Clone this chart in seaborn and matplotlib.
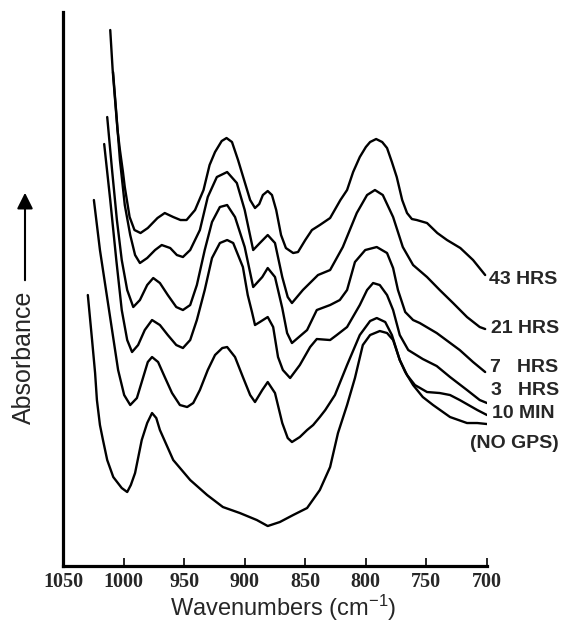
import pandas as pd
import seaborn as sns
import matplotlib.pyplot as plt

# spectra (wavenumber in cm-1, absorbance in arbitrary offset units)
wn_43h = [1011, 1009, 1007, 1005, 1003, 1000.5, 999, 995, 991, 986, 980, 972, 966, 959, 953, 948,
          941, 934, 929, 924.5, 919, 915, 910.5, 905.5, 900.5, 895.5, 891.5, 888, 885, 881, 877.5,
          874, 870, 866, 860, 856, 850, 844.5, 838, 829.5, 821, 815.5, 810.5, 805, 800, 796.5,
          791.5, 786.5, 782.5, 778.5, 774.5, 770, 766, 762, 758, 749.5, 741, 733, 722, 711.5, 701.5]
abs_43h = [5.36, 4.96, 4.66, 4.36, 4.16, 3.94, 3.79, 3.49, 3.36, 3.33, 3.38, 3.48, 3.53, 3.49, 3.46,
           3.46, 3.56, 3.76, 4.01, 4.14, 4.25, 4.28, 4.24, 4.06, 3.86, 3.66, 3.58, 3.62, 3.71, 3.75,
           3.71, 3.56, 3.31, 3.18, 3.13, 3.14, 3.26, 3.36, 3.41, 3.48, 3.66, 3.76, 3.94, 4.09, 4.19,
           4.24, 4.27, 4.24, 4.18, 4.04, 3.89, 3.66, 3.53, 3.47, 3.46, 3.43, 3.33, 3.26, 3.18, 3.06, 2.91]

wn_21h = [1008.7, 1006.2, 1004.6, 1003, 999, 994.5, 990.5, 986.5, 980.5, 974, 968.5, 961.5, 956, 951,
          945, 937, 930.5, 923, 914.5, 906.5, 900, 893, 887.5, 881, 875, 869, 864.5, 861, 852, 839.5,
          829.5, 819, 807.5, 799, 792.5, 786, 777.5, 769.5, 761, 749.5, 739, 728, 716.5, 706, 701.5]
abs_21h = [4.94, 4.56, 4.31, 4.06, 3.61, 3.31, 3.11, 3.03, 3.08, 3.16, 3.21, 3.18, 3.11, 3.09, 3.16,
           3.36, 3.69, 3.89, 3.94, 3.83, 3.56, 3.16, 3.23, 3.31, 3.23, 2.89, 2.69, 2.63, 2.76, 2.91,
           2.96, 3.19, 3.53, 3.71, 3.76, 3.71, 3.49, 3.19, 3.01, 2.89, 2.76, 2.63, 2.49, 2.39, 2.37]

wn_7h = [1013.5, 1009.5, 1005.5, 1001.5, 997, 992, 986.5, 980.5, 975.5, 970, 963.5, 956.5, 951, 945,
         939.5, 933, 927, 920.5, 914.5, 908, 900, 893, 885.5, 881, 875, 869, 865, 861, 848.5, 840.5,
         829.5, 821.5, 815.5, 809, 800.5, 791, 782.5, 777.5, 773.5, 767.5, 761, 755.5, 741.5, 722.5,
         711.5, 701.5]
abs_7h = [4.49, 3.96, 3.46, 3.06, 2.76, 2.59, 2.66, 2.81, 2.88, 2.83, 2.71, 2.59, 2.56, 2.61, 2.81,
          3.16, 3.44, 3.59, 3.61, 3.49, 3.19, 2.79, 2.89, 2.98, 2.89, 2.58, 2.33, 2.23, 2.36, 2.56,
          2.61, 2.66, 2.76, 3.04, 3.16, 3.19, 3.13, 2.98, 2.76, 2.54, 2.46, 2.43, 2.33, 2.16, 2.04, 1.94]

wn_3h = [1016, 1011, 1006, 1001.5, 997, 993, 988, 982.5, 976.5, 970, 963.5, 956.5, 951, 945, 939.5,
         933, 927, 920.5, 914.5, 909.5, 901.5, 897.5, 894, 891.5, 887.5, 881, 876.5, 872.5, 868.5,
         862.5, 854.5, 846, 840.5, 829.5, 824, 815.5, 805, 799, 794, 788.5, 782.5, 777.5, 772, 765,
         753, 741.5, 730.5, 716.5, 706, 700]
abs_3h = [4.22, 3.66, 3.06, 2.56, 2.26, 2.14, 2.21, 2.36, 2.46, 2.41, 2.31, 2.21, 2.18, 2.26, 2.46,
          2.76, 3.08, 3.23, 3.26, 3.23, 2.99, 2.71, 2.54, 2.41, 2.44, 2.49, 2.39, 2.09, 1.96, 1.88,
          2.01, 2.19, 2.27, 2.26, 2.31, 2.39, 2.61, 2.76, 2.83, 2.81, 2.71, 2.56, 2.31, 2.16, 2.07,
          2.00, 1.89, 1.76, 1.66, 1.63]

wn_10m = [1024.5, 1019.5, 1014.5, 1009.5, 1004.5, 999.5, 994.5, 989, 984, 980, 976.5, 971.5, 966, 960,
          953.5, 947.5, 942.5, 937, 930.5, 924.5, 918.5, 914.5, 908, 901.5, 895.5, 891.5, 885.5, 881,
          875, 869, 864.5, 861, 854.5, 848.5, 843.5, 838, 833.5, 825.5, 815.5, 805, 796.5, 791, 784,
          778.5, 772, 766, 759.5, 749.5, 739, 730.5, 722.5, 708, 700]
abs_10m = [3.66, 3.16, 2.76, 2.36, 1.96, 1.71, 1.61, 1.68, 1.88, 2.04, 2.09, 2.04, 1.89, 1.73, 1.61,
           1.59, 1.63, 1.76, 1.96, 2.11, 2.18, 2.19, 2.09, 1.89, 1.71, 1.64, 1.76, 1.84, 1.73, 1.43,
           1.28, 1.24, 1.29, 1.36, 1.41, 1.49, 1.56, 1.71, 2.01, 2.31, 2.45, 2.48, 2.44, 2.31, 2.06,
           1.91, 1.81, 1.74, 1.73, 1.71, 1.66, 1.56, 1.51]

wn_nogps = [1029.5, 1026, 1023.5, 1022, 1019.5, 1017, 1013.5, 1008.5, 1001.5, 997, 994, 990.5, 985,
            980.5, 976.5, 973, 970, 959, 945, 931, 918, 904, 890, 881, 871, 860, 848.5, 838, 829.5,
            823, 815.5, 809, 802.5, 796.5, 788.5, 782.5, 777.5, 772, 767.5, 761, 753, 744.5, 730.5,
            716.5, 708, 700]
abs_nogps = [2.71, 2.26, 1.93, 1.66, 1.41, 1.26, 1.06, 0.89, 0.78, 0.74, 0.81, 0.93, 1.26, 1.43, 1.53,
             1.48, 1.36, 1.06, 0.86, 0.71, 0.59, 0.53, 0.46, 0.40, 0.44, 0.51, 0.58, 0.76, 0.99, 1.33,
             1.61, 1.88, 2.21, 2.31, 2.35, 2.33, 2.26, 2.06, 1.94, 1.81, 1.69, 1.61, 1.49, 1.43, 1.43, 1.42]

labels = ['43 HRS', '21 HRS', '7   HRS', '3   HRS', '10 MIN', '(NO GPS)']
spectra = [(wn_43h, abs_43h), (wn_21h, abs_21h), (wn_7h, abs_7h),
           (wn_3h, abs_3h), (wn_10m, abs_10m), (wn_nogps, abs_nogps)]
# where each label sits relative to the end of its curve (pixels)
label_offsets = [(4, -4), (6, 1), (5, 5), (4, 13), (5, 2), (-17, -19)]

frames = []
for lab, (w, a) in zip(labels, spectra):
    frames.append(pd.DataFrame({'wn': w, 'abs': a, 'sample': lab}))
df = pd.concat(frames, ignore_index=True)

sns.set_style('white')
plt.rcParams['font.family'] = ['Liberation Sans', 'DejaVu Sans']
plt.rcParams['mathtext.default'] = 'regular'

fig = plt.figure(figsize=(5.66, 6.26), dpi=100)
ax = fig.add_axes([0.1113, 0.0958, 0.7491, 0.885])

sns.lineplot(data=df, x='wn', y='abs', units='sample', estimator=None,
             color='black', lw=1.7, sort=False, ax=ax)

ax.set_xlim(1050, 700)
ax.set_ylim(0, 5.54)
ax.set_xticks([1050, 1000, 950, 900, 850, 800, 750, 700])
ax.set_yticks([])
ax.tick_params(axis='x', direction='in', length=6, width=1.4, pad=4, bottom=True)
for t in ax.get_xticklabels():
    t.set_family('Liberation Serif')
    t.set_fontweight('bold')
    t.set_fontsize(14.5)

sns.despine(ax=ax)
for side in ['left', 'bottom']:
    ax.spines[side].set_linewidth(2.3)
    ax.spines[side].set_color('black')

ax.set_xlabel('Wavenumbers (cm$^{-1}$)', fontsize=17)
ax.xaxis.set_label_coords(0.52, -0.075)
ax.xaxis.label.set_va('center')
ax.set_ylabel('')

for lab, (w, a), off in zip(labels, spectra, label_offsets):
    ax.annotate(lab, xy=(w[-1], a[-1]), xytext=off, textcoords='offset pixels',
                ha='left', va='center', fontsize=14, fontweight='bold', annotation_clip=False)

fig.text(24 / 566, 1 - 357 / 626, 'Absorbance', rotation=90, ha='center', va='center', fontsize=18)
ax.annotate('', xy=(25, 626 - 190), xycoords='figure pixels',
            xytext=(25, 626 - 283), textcoords='figure pixels',
            arrowprops=dict(arrowstyle='-|>', color='black', lw=1.5, mutation_scale=24))

fig.savefig('out.png', dpi=100)
